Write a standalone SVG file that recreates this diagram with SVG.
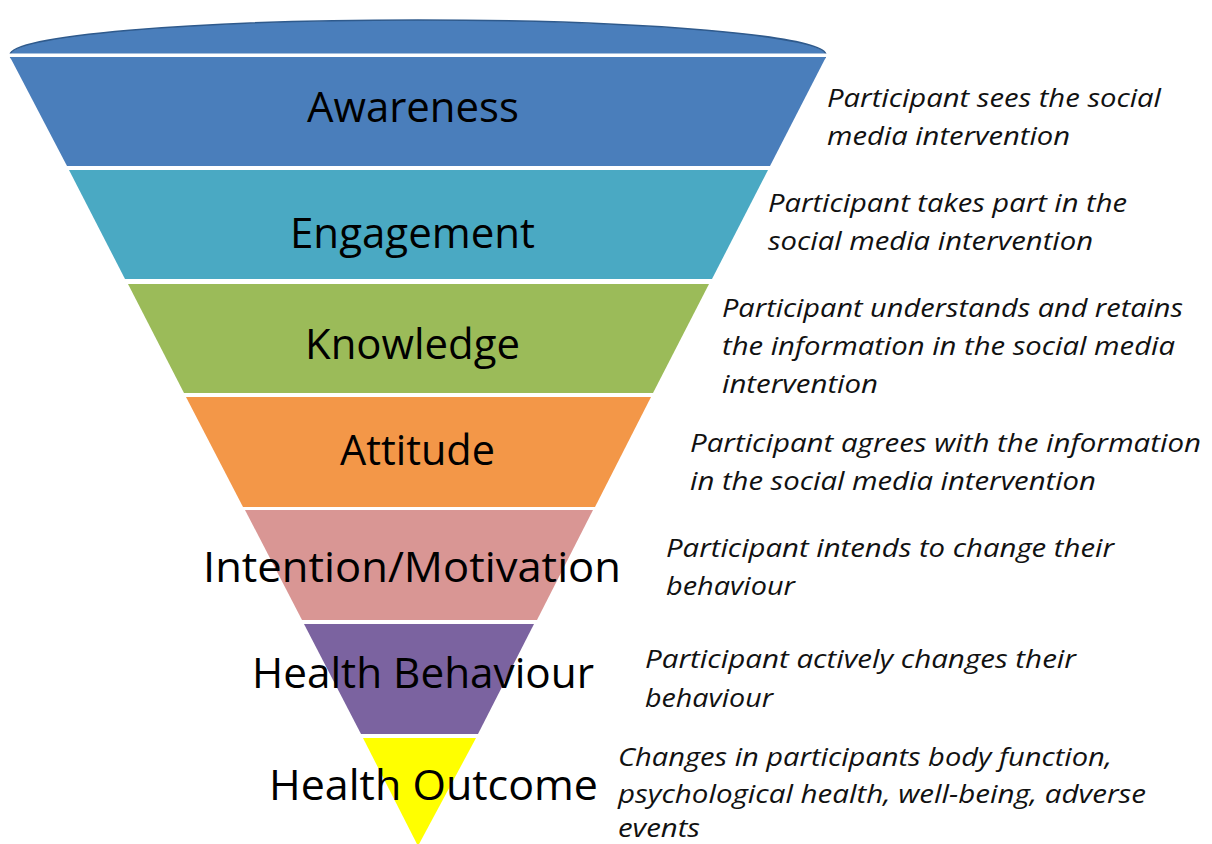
<svg xmlns="http://www.w3.org/2000/svg" width="1212" height="844" viewBox="0 0 1212 844">
  <style>
    .band { stroke: none; }
    .label { font-family: "Open Sans", "Noto Sans", sans-serif; font-size: 42px; fill: #000; text-anchor: start; }
    .desc { font-family: "Open Sans", "Noto Sans", sans-serif; font-style: italic; font-size: 26px; fill: #111; }
  </style>
  <rect width="1212" height="844" fill="#fff"/>

  <!-- funnel rim -->
  <g id="rim">
    <ellipse cx="418" cy="55" rx="408" ry="35" fill="#4A7EBB" stroke="#2F5A8C" stroke-width="1.5"/>
    <rect x="0" y="53.5" width="840" height="3.5" fill="#fff"/>
  </g>

  <!-- funnel stages: left edge x = 10 + 0.52(y-57), right edge x = 826 - 0.515(y-57) -->
  <g id="awareness">
    <polygon class="band" fill="#4A7EBB" points="10,57 826,57 770,166 67,166"/>
    <text class="label" x="307" y="122" textLength="212" lengthAdjust="spacingAndGlyphs">Awareness</text>
  </g>
  <g id="engagement">
    <polygon class="band" fill="#4AA9C3" points="69,170 768,170 712,279 125,279"/>
    <text class="label" x="290" y="248" textLength="245" lengthAdjust="spacingAndGlyphs">Engagement</text>
  </g>
  <g id="knowledge">
    <polygon class="band" fill="#9BBB59" points="128,284 709,284 653,393 184,393"/>
    <text class="label" x="305" y="359" textLength="215" lengthAdjust="spacingAndGlyphs">Knowledge</text>
  </g>
  <g id="attitude">
    <polygon class="band" fill="#F39748" points="186,397 651,397 595,507 243,507"/>
    <text class="label" x="340" y="465" textLength="155" lengthAdjust="spacingAndGlyphs">Attitude</text>
  </g>
  <g id="intention">
    <polygon class="band" fill="#D99694" points="245,510 593,510 537,620 302,620"/>
    <text class="label" x="203" y="582" textLength="418" lengthAdjust="spacingAndGlyphs">Intention/Motivation</text>
  </g>
  <g id="behaviour">
    <polygon class="band" fill="#7B63A0" points="304,624 534,624 478,734 361,734"/>
    <text class="label" x="252" y="688" textLength="342" lengthAdjust="spacingAndGlyphs">Health Behaviour</text>
  </g>
  <g id="outcome">
    <polygon class="band" fill="#FFFF00" points="363,738 476,738 418,846"/>
    <text class="label" x="269" y="800" textLength="329" lengthAdjust="spacingAndGlyphs">Health Outcome</text>
  </g>

  <!-- stage descriptions -->
  <g id="descriptions">
    <text class="desc" x="827" y="107" textLength="334" lengthAdjust="spacingAndGlyphs">Participant sees the social</text>
    <text class="desc" x="827" y="145" textLength="243" lengthAdjust="spacingAndGlyphs">media intervention</text>

    <text class="desc" x="768" y="212" textLength="359" lengthAdjust="spacingAndGlyphs">Participant takes part in the</text>
    <text class="desc" x="768" y="250" textLength="325" lengthAdjust="spacingAndGlyphs">social media intervention</text>

    <text class="desc" x="722" y="317" textLength="461" lengthAdjust="spacingAndGlyphs">Participant understands and retains</text>
    <text class="desc" x="722" y="355" textLength="453" lengthAdjust="spacingAndGlyphs">the information in the social media</text>
    <text class="desc" x="722" y="393" textLength="156" lengthAdjust="spacingAndGlyphs">intervention</text>

    <text class="desc" x="690" y="452" textLength="511" lengthAdjust="spacingAndGlyphs">Participant agrees with the information</text>
    <text class="desc" x="690" y="490" textLength="406" lengthAdjust="spacingAndGlyphs">in the social media intervention</text>

    <text class="desc" x="666" y="557" textLength="448" lengthAdjust="spacingAndGlyphs">Participant intends to change their</text>
    <text class="desc" x="666" y="595" textLength="129" lengthAdjust="spacingAndGlyphs">behaviour</text>

    <text class="desc" x="645" y="668" textLength="431" lengthAdjust="spacingAndGlyphs">Participant actively changes their</text>
    <text class="desc" x="645" y="707" textLength="128" lengthAdjust="spacingAndGlyphs">behaviour</text>

    <text class="desc" x="618" y="766" textLength="494" lengthAdjust="spacingAndGlyphs">Changes in participants body function,</text>
    <text class="desc" x="618" y="803" textLength="528" lengthAdjust="spacingAndGlyphs">psychological health, well-being, adverse</text>
    <text class="desc" x="618" y="837" textLength="82" lengthAdjust="spacingAndGlyphs">events</text>
  </g>
</svg>
